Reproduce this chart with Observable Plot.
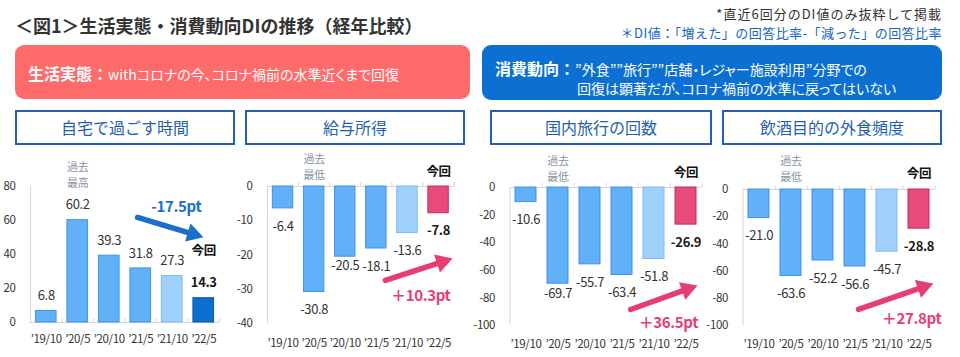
<!DOCTYPE html>
<html><head><meta charset="utf-8">
<script src="https://cdn.jsdelivr.net/npm/d3@7"></script>
<script src="https://cdn.jsdelivr.net/npm/@observablehq/plot@0.6"></script>
<style>
body{margin:0;background:#fff;font-family:"Noto Sans CJK JP","Noto Sans",sans-serif;}
#root{position:relative;width:960px;height:357px;overflow:hidden;background:#fff;}
.abs{position:absolute;white-space:nowrap;}
.palt{font-feature-settings:"palt";}
#title{left:15px;top:15px;font-size:18px;line-height:20px;font-weight:700;color:#333;}
#note1{right:18px;top:7px;font-size:13px;line-height:13px;letter-spacing:1px;color:#333;}
#note2{right:18px;top:26px;font-size:13px;line-height:13px;letter-spacing:0.45px;color:#1565c0;}
.banner{border-radius:9px;color:#fff;}
#bannerLife{left:15px;top:45px;width:455px;height:54px;background:#ff6b6b;}
#bannerCons{left:482px;top:45px;width:460px;height:55px;background:#0b70d2;}
.bhead{font-weight:700;font-size:16px;}
.hbox{box-sizing:border-box;top:110px;height:35px;border:2px solid #2461ad;background:#fff;color:#1f5fae;font-size:16px;line-height:31px;text-align:center;}
.panel{position:absolute;top:150px;}
.panel svg text{letter-spacing:-0.35px;}
</style></head>
<body><div id="root"></div>
<script>
// ---------- data ----------
const categories = ["’19/10","’20/5","’20/10","’21/5","’21/10","’22/5"];
const panelTitles = ["自宅で過ごす時間","給与所得","国内旅行の回数","飲酒目的の外食頻度"];
const homeTime = [6.8, 60.2, 39.3, 31.8, 27.3, 14.3];
const salary = [-6.4, -30.8, -20.5, -18.1, -13.6, -7.8];
const travel = [-10.6, -69.7, -55.7, -63.4, -51.8, -26.9];
const drinking = [-21.0, -63.6, -52.2, -56.6, -45.7, -28.8];
const yTicksHome = [0, 20, 40, 60, 80];
const yTicksSalary = [0, -10, -20, -30, -40];
const yTicksTravel = [0, -20, -40, -60, -80, -100];
const yTicksDrinking = [0, -20, -40, -60, -80, -100];
const extremeNotes = ["過去\n最高", "過去\n最低", "過去\n最低", "過去\n最低"];
const changeNotes = ["-17.5pt", "＋10.3pt", "＋36.5pt", "＋27.8pt"];
const currentNote = "今回";
const titleText = "＜図1＞生活実態・消費動向DIの推移（経年比較）";
const noteLines = ["*直近6回分のDI値のみ抜粋して掲載", "＊DI値：「増えた」の回答比率-「減った」の回答比率"];
const bannerLife = ["生活実態：", "withコロナの今、コロナ禍前の水準近くまで回復"];
const bannerCons = ["消費動向：", "”外食””旅行””店舗・レジャー施設利用”分野での", "回復は顕著だが、コロナ禍前の水準に戻ってはいない"];

// ---------- layout (html) ----------
const root = document.getElementById("root");
function el(id, cls, html, style) {
  const d = document.createElement("div");
  if (id) d.id = id;
  d.className = "abs " + (cls || "");
  d.innerHTML = html;
  if (style) d.setAttribute("style", style);
  root.appendChild(d);
  return d;
}
el("title", "", titleText);
el("note1", "", noteLines[0]);
el("note2", "", noteLines[1]);
el("bannerLife", "banner", "");
el(null, "", `<span class="bhead">${bannerLife[0]}</span><span class="palt" style="font-size:14px">${bannerLife[1]}</span>`,
   "left:28px;top:62px;line-height:22px;color:#fff;");
el("bannerCons", "banner", "");
el(null, "", `<span class="bhead">${bannerCons[0]}</span><span class="palt" style="font-size:14px">${bannerCons[1]}</span>`,
   "left:495px;top:57px;line-height:22px;color:#fff;");
el(null, "", `<span class="palt" style="font-size:14px">${bannerCons[2]}</span>`,
   "left:577px;top:76px;line-height:22px;color:#fff;");
const boxes = [[15, 220], [245, 220], [490, 222], [722, 220]];
panelTitles.forEach((t, k) => el(null, "hbox", t, `left:${boxes[k][0]}px;width:${boxes[k][1]}px;`));

// ---------- panels ----------
const W = 240, H = 207;
const MID = "#62b0f8", MID_S = "#3f93e6", LIGHT = "#a0d0fc", LIGHT_S = "#7dbaf0";
const BLUE_TXT = "#1a6fc8", PINK = "#e63d72";
const panelValues = [homeTime, salary, travel, drinking];
const panelTicks = [yTicksHome, yTicksSalary, yTicksTravel, yTicksDrinking];
const panels = [
  {left: 0, ml: 30, mr: 21, mt: 36, mb: 35, domain: [0, 80], accent: "#0b6fd0", accentS: "#0a58a8",
   arrowColor: BLUE_TXT, arrow: [2.9, 61.8, 4.99, 50.2], change: [4.13, 67.6], extremeDy: -13,
   current: [5, 42, 0], valueDy: -15, dyOverride: {}, xPad: 12},
  {left: 240, ml: 27, mr: 26.4, mt: 36, mb: 34, domain: [-40, 0], accent: "#e84a7a", accentS: "#c42d5d",
   arrowColor: PINK, arrow: [3.29, -27.4, 5.45, -21.0], change: [4.43, -32.1], extremeDy: -21,
   current: [5, 0, -15], valueDy: 18, dyOverride: {2: 9}, xPad: 15},
  {left: 480, ml: 29.5, mr: 18.5, mt: 37, mb: 32, domain: [-100, 0], accent: "#e84a7a", accentS: "#c42d5d",
   arrowColor: PINK, arrow: [3.27, -88.4, 5.36, -71.0], change: [4.45, -98.6], extremeDy: -19.5,
   current: [5, 0, -15], valueDy: 18, dyOverride: {1: 10}, xPad: 14},
  {left: 720, ml: 22.5, mr: 25.5, mt: 39, mb: 32, domain: [-100, 0], accent: "#e84a7a", accentS: "#c42d5d",
   arrowColor: PINK, arrow: [3.11, -88.2, 5.45, -69.1], change: [4.77, -95.6], extremeDy: -22,
   current: [5, 0, -16], valueDy: 18, dyOverride: {}, xPad: 14}
];

panels.forEach((p, k) => {
  const vals = panelValues[k];
  const n = categories.length;
  const data = vals.map((v, i) => ({i, v}));
  const last = n - 1;
  const fill = i => i === last ? p.accent : i === last - 1 ? LIGHT : MID;
  const stroke = i => i === last ? p.accentS : i === last - 1 ? LIGHT_S : MID_S;
  const xDomain = [-0.5, n - 0.5];
  const xRange = [p.ml, W - p.mr];
  const yRange = [H - p.mb, p.mt];
  const xs = Plot.scale({x: {type: "linear", domain: xDomain, range: xRange}});
  const ys = Plot.scale({y: {type: "linear", domain: p.domain, range: yRange}});
  const hw = 0.328;
  const top = p.domain[1];
  const [ax1, ay1, ax2, ay2] = p.arrow;
  const sx1 = xs.apply(ax1), sy1 = ys.apply(ay1), sx2 = xs.apply(ax2), sy2 = ys.apply(ay2);
  const th = Math.atan2(sy2 - sy1, sx2 - sx1);
  const r = 7;
  const hy = Math.sqrt(r * r * Math.PI / (3 * Math.sqrt(3)));
  const arrowData = [{x1: ax1, y1: ay1, x2: ax2, y2: ay2}];

  const valueMarks = data.map(d => Plot.text([d], {
    x: "i", y: "v", text: e => e.v.toFixed(1),
    dy: p.dyOverride[d.i] !== undefined ? p.dyOverride[d.i] : p.valueDy,
    fontSize: 13, fontWeight: d.i === last ? "bold" : "normal", fill: d.i === last ? "#1a1a1a" : "#333"
  }));

  const chart = Plot.plot({
    width: W, height: H,
    marginLeft: p.ml, marginRight: p.mr, marginTop: p.mt, marginBottom: p.mb,
    style: {fontFamily: '"Noto Sans CJK JP","Noto Sans",sans-serif', fontSize: "11.5px", color: "#333",
            background: "transparent", overflow: "visible"},
    x: {type: "linear", domain: xDomain, range: xRange, ticks: d3.range(n), tickFormat: i => categories[i],
        tickSize: 0, tickPadding: p.xPad, label: null},
    y: {type: "linear", domain: p.domain, range: yRange, ticks: panelTicks[k], tickFormat: d => String(d),
        tickSize: 0, tickPadding: 15, label: null},
    color: {type: "identity"},
    marks: [
      Plot.ruleX([-0.5], {y1: p.domain[0], y2: p.domain[1], stroke: "#d6d6d6", strokeWidth: 1}),
      Plot.ruleY([0], {x1: -0.5, x2: n - 0.5, stroke: "#d6d6d6", strokeWidth: 1}),
      Plot.ruleX(d3.range(n).map(i => i + 0.5), {y1: 0, y2: 0, insetTop: -4, stroke: "#d6d6d6"}),
      Plot.rect(data, {x1: d => d.i - hw, x2: d => d.i + hw, y1: 0, y2: "v",
                       fill: d => fill(d.i), stroke: d => stroke(d.i), strokeWidth: 1}),
      ...valueMarks,
      Plot.text([extremeNotes[k]], {x: 1, y: top, text: d => d, dy: p.extremeDy, fontSize: 11,
                       lineHeight: 1.48, fill: "#8a94a6"}),
      Plot.text([currentNote], {x: p.current[0], y: p.current[1], dy: p.current[2], text: d => d,
                       fontSize: 12.5, fontWeight: "bold", fill: "#111"}),
      Plot.arrow(arrowData, {x1: "x1", y1: "y1", x2: "x2", y2: "y2", stroke: p.arrowColor, strokeWidth: 5.5,
                       headLength: 0, insetEnd: 2 * hy}),
      Plot.dot(arrowData, {x: "x2", y: "y2", symbol: "triangle", r: r, fill: p.arrowColor, stroke: "none",
                       rotate: th * 180 / Math.PI + 90,
                       dx: -2 * hy * Math.cos(th), dy: -2 * hy * Math.sin(th)}),
      Plot.text([changeNotes[k]], {x: p.change[0], y: p.change[1], text: d => d, fontSize: 15,
                       fontWeight: "bold", fill: p.arrowColor})
    ]
  });
  const wrap = document.createElement("div");
  wrap.className = "panel";
  wrap.style.left = p.left + "px";
  wrap.appendChild(chart);
  root.appendChild(wrap);
});
</script>
</body></html>
